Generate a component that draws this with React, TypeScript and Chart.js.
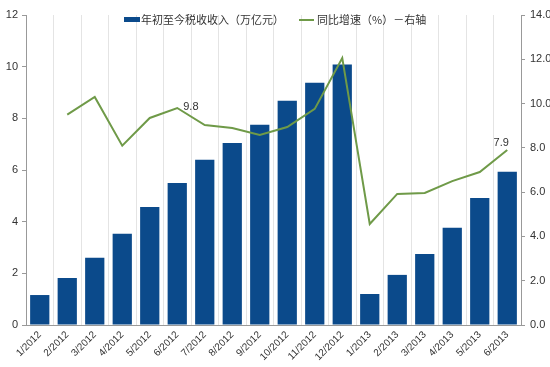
import React, { useEffect, useRef } from "react";
import { Chart, registerables } from "chart.js";

Chart.register(...registerables);

const categories = ["1/2012","2/2012","3/2012","4/2012","5/2012","6/2012","7/2012","8/2012","9/2012","10/2012","11/2012","12/2012","1/2013","2/2013","3/2013","4/2013","5/2013","6/2013"];
const revenue = [1.16, 1.82, 2.6, 3.53, 4.57, 5.5, 6.4, 7.05, 7.75, 8.68, 9.38, 10.08, 1.2, 1.94, 2.75, 3.76, 4.92, 5.93];
const growth: (number | null)[] = [null, 9.5, 10.3, 8.1, 9.35, 9.8, 9.03, 8.9, 8.58, 8.94, 9.76, 12.06, 4.56, 5.92, 5.96, 6.5, 6.91, 7.9];
const labeledPoints = [5, 17];
const barLabel = "年初至今税收收入（万亿元）";
const lineLabel = "同比增速（%）－右轴";
const leftTicks = [0, 2, 4, 6, 8, 10, 12];
const rightTicks = [0, 2, 4, 6, 8, 10, 12, 14];

const BLUE = "#0b4a8b";
const GREEN = "#6f9a48";
const FONT = "'Liberation Sans', Arial, 'Noto Sans CJK SC', sans-serif";

export default function App() {
  const ref = useRef<HTMLCanvasElement>(null);
  useEffect(() => {
    document.body.style.margin = "0";
    const overlay = {
      id: "overlay",
      afterDatasetsDraw(chart: any) {
        const ctx = chart.ctx;
        ctx.save();
        // data labels
        const meta = chart.getDatasetMeta(1);
        ctx.font = `11px ${FONT}`;
        ctx.fillStyle = "#333";
        labeledPoints.forEach((i, k) => {
          const p = meta.data[i];
          const v = growth[i];
          if (!p || v == null) return;
          if (k === 0) {
            ctx.textAlign = "left";
            ctx.textBaseline = "middle";
            ctx.fillText(v.toFixed(1), p.x + 6, p.y - 1);
          } else {
            ctx.textAlign = "center";
            ctx.textBaseline = "bottom";
            ctx.fillText(v.toFixed(1), p.x - 6, p.y - 2);
          }
        });
        // legend
        ctx.textAlign = "left";
        ctx.textBaseline = "middle";
        ctx.font = `11px 'Noto Sans CJK SC', ${FONT}`;
        ctx.fillStyle = BLUE;
        ctx.fillRect(124, 17, 16, 5);
        ctx.fillStyle = "#333";
        ctx.fillText(barLabel, 141, 20);
        ctx.strokeStyle = GREEN;
        ctx.lineWidth = 2;
        ctx.beginPath();
        ctx.moveTo(299, 20);
        ctx.lineTo(314, 20);
        ctx.stroke();
        ctx.fillText(lineLabel, 317, 20);
        ctx.restore();
      },
    };
    const chart = new Chart(ref.current!, {
      type: "bar",
      data: {
        labels: categories,
        datasets: [
          {
            type: "bar",
            label: barLabel,
            data: revenue,
            backgroundColor: BLUE,
            yAxisID: "y",
            barPercentage: 0.7,
            categoryPercentage: 1,
            order: 2,
          },
          {
            type: "line",
            label: lineLabel,
            data: growth,
            borderColor: GREEN,
            borderWidth: 2,
            pointRadius: 0,
            tension: 0,
            yAxisID: "y1",
            spanGaps: false,
            order: 1,
          } as any,
        ],
      },
      options: {
        animation: false,
        responsive: false,
        maintainAspectRatio: false,
        layout: { padding: { top: 15, left: 0, right: 0, bottom: 0 } },
        plugins: { legend: { display: false }, tooltip: { enabled: false } },
        scales: {
          x: {
            offset: true,
            grid: { display: true, offset: true, color: "#e4e4e4", drawTicks: false },
            border: { display: true, color: "#999" },
            ticks: {
              minRotation: 45,
              maxRotation: 45,
              autoSkip: false,
              color: "#333",
              font: { size: 10, family: FONT },
              padding: 4,
            },
            afterFit: (s: any) => { s.height = 42; },
          },
          y: {
            position: "left",
            min: 0,
            max: 12,
            afterBuildTicks: (s: any) => { s.ticks = leftTicks.map((v) => ({ value: v })); },
            grid: { drawOnChartArea: false, drawTicks: true, tickLength: 4, color: "#999" },
            border: { display: true, color: "#999" },
            ticks: { color: "#333", font: { size: 11, family: FONT }, padding: 4 },
            afterFit: (s: any) => { s.width = 26; },
          },
          y1: {
            position: "right",
            min: 0,
            max: 14,
            afterBuildTicks: (s: any) => { s.ticks = rightTicks.map((v) => ({ value: v })); },
            grid: { drawOnChartArea: false, drawTicks: true, tickLength: 4, color: "#999" },
            border: { display: true, color: "#999" },
            ticks: {
              color: "#333",
              font: { size: 11, family: FONT },
              padding: 5,
              callback: (v: any) => Number(v).toFixed(1),
            },
            afterFit: (s: any) => { s.width = 29; },
          },
        },
      },
      plugins: [overlay],
    });
    return () => chart.destroy();
  }, []);
  return (
    <div style={{ width: 550, height: 367, background: "#fff" }}>
      <canvas ref={ref} width={550} height={367} style={{ display: "block" }} />
    </div>
  );
}
